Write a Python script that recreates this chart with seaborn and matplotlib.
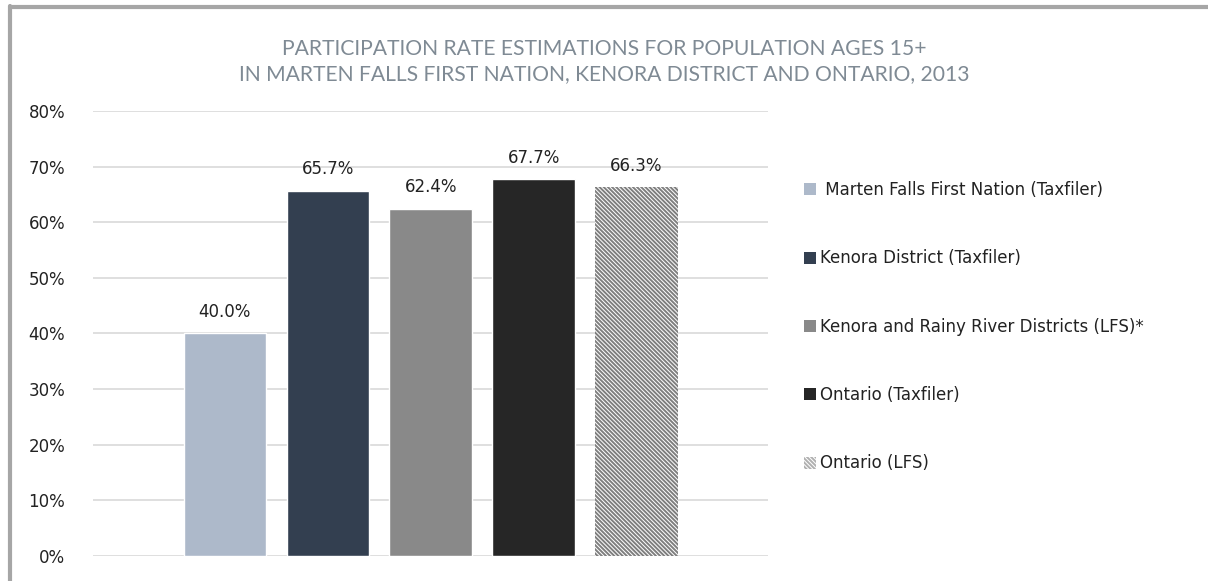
import matplotlib
matplotlib.use('Agg')
import matplotlib.pyplot as plt
import matplotlib.patches as mpatches
import pandas as pd
import seaborn as sns

categories = [
    " Marten Falls First Nation (Taxfiler)",
    "Kenora District (Taxfiler)",
    "Kenora and Rainy River Districts (LFS)*",
    "Ontario (Taxfiler)",
    "Ontario (LFS)",
]
rates = [40.0, 65.7, 62.4, 67.7, 66.3]
colors = ["#ADB9CA", "#333F50", "#898989", "#262626", "#FFFFFF"]
yticks = [0, 10, 20, 30, 40, 50, 60, 70, 80]

df = pd.DataFrame({"series": categories, "rate": rates})

sns.set_style("white")
plt.rcParams['font.family'] = ['DejaVu Sans']
plt.rcParams['hatch.linewidth'] = 1.4

HATCH = '\\' * 8

fig = plt.figure(figsize=(12.08, 5.81), dpi=100)
ax = fig.add_axes([0.077, 0.043, 0.559, 0.766])

sns.barplot(data=df, x="series", y="rate", hue="series",
            palette=dict(zip(categories, colors)), width=0.8, saturation=1,
            legend=False, ax=ax, zorder=3)

# hatched last bar
last = ax.patches[len(categories) - 1]
last.set_hatch(HATCH)
last.set_edgecolor('#7F7F7F')
last.set_linewidth(0)

for cont in ax.containers:
    ax.bar_label(cont, fmt='%.1f%%', padding=9, fontsize=12, color='#222222')

ax.set_ylim(0, 80)
ax.set_xlim(-1.28, 5.28)
ax.set_yticks(yticks)
ax.set_yticklabels([f"{t}%" for t in yticks], fontsize=12, color='#222222')
ax.set_xticks([])
ax.set_xlabel("")
ax.set_ylabel("")
ax.tick_params(axis='y', length=0, pad=20)
ax.grid(axis='y', color='#D9D9D9', linewidth=1.2, zorder=0)
for s in ax.spines.values():
    s.set_visible(False)

handles = []
for c, name in zip(colors, categories):
    if c == "#FFFFFF":
        h = mpatches.Patch(facecolor='white', edgecolor='#B0B0B0', hatch=HATCH, linewidth=0, label=name)
    else:
        h = mpatches.Patch(facecolor=c, edgecolor='none', label=name)
    handles.append(h)
fig.legend(handles=handles, loc='upper left', bbox_to_anchor=(0.653, 0.714),
           frameon=False, fontsize=12, handlelength=0.72, handleheight=0.72,
           handletextpad=0.25, labelspacing=3.02, labelcolor='#222222')

fig.text(0.5, 0.894, "PARTICIPATION RATE ESTIMATIONS FOR POPULATION AGES 15+\n"
         "IN MARTEN FALLS FIRST NATION, KENORA DISTRICT AND ONTARIO, 2013",
         ha='center', va='center', fontsize=15.2, color='#7F8A94',
         linespacing=1.3, family=['Lato', 'DejaVu Sans'])

# outer frame (left and top edges)
fig.add_artist(plt.Line2D([0.0083, 0.0083], [0, 0.99], color='#A6A6A6', linewidth=3, transform=fig.transFigure))
fig.add_artist(plt.Line2D([0.0083, 1.0], [0.988, 0.988], color='#A6A6A6', linewidth=3, transform=fig.transFigure))

fig.savefig("out.png", dpi=100)
